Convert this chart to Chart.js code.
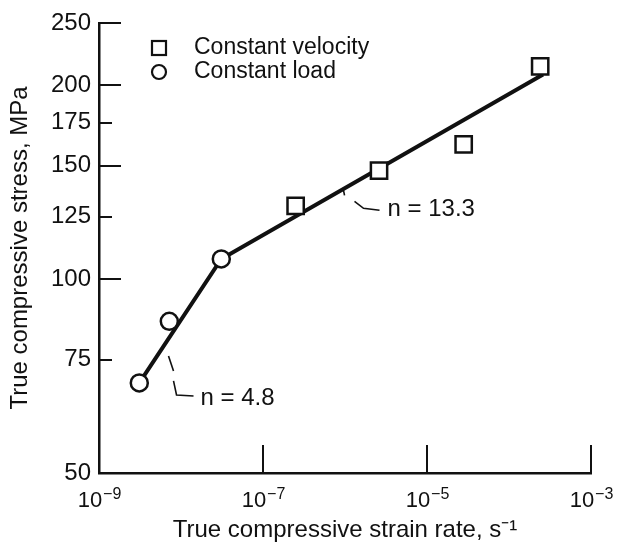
<!DOCTYPE html>
<html>
<head>
<meta charset="utf-8">
<script src="https://cdn.jsdelivr.net/npm/chart.js@4/dist/chart.umd.min.js"></script>
<style>
  html, body { margin: 0; padding: 0; background: #fff; }
  #wrap { width: 618px; height: 551px; }
</style>
</head>
<body>
<div id="wrap"><canvas id="myChart" width="618" height="551"></canvas></div>
<script>
// data (strain rate in 1/s, stress in MPa)
var loadRate = [3.1e-9, 7.2e-9, 3.1e-8];
var loadStress = [69, 86, 107.5];
var velocityRate = [2.5e-7, 2.6e-6, 2.8e-5, 2.4e-4];
var velocityStress = [130, 147.5, 162, 214];
var fitRate = [3.1e-9, 3.1e-8, 2.6e-4];
var fitStress = [69, 107.5, 208];

var yTicks = [50, 75, 100, 125, 150, 175, 200, 250];
var xTicks = [1e-9, 1e-7, 1e-5, 1e-3];
var xTickExponents = ["\u22129", "\u22127", "\u22125", "\u22123"];

var FONT = "'Liberation Sans', Arial, Helvetica, sans-serif";

function toPoints(xs, ys) {
    return xs.map(function (x, i) { return { x: x, y: ys[i] }; });
}

// inward tick marks on both axes + the 10^n labels under the x axis
var axisMarks = {
    id: "axisMarks",
    afterDatasetsDraw: function (chart) {
        var ctx = chart.ctx, a = chart.chartArea;
        var xs = chart.scales.x, ys = chart.scales.y;
        ctx.save();
        ctx.strokeStyle = "#111";
        ctx.lineWidth = 2;
        ys.ticks.forEach(function (t) {
            if (t.value === ys.min) return;
            var py = Math.round(ys.getPixelForValue(t.value));
            var len = t.value % 50 === 0 ? 22 : 13;
            ctx.beginPath();
            ctx.moveTo(a.left, py);
            ctx.lineTo(a.left + len, py);
            ctx.stroke();
        });
        xs.ticks.forEach(function (t) {
            if (t.value === xs.min) return;
            var px = Math.round(xs.getPixelForValue(t.value));
            ctx.beginPath();
            ctx.moveTo(px, a.bottom);
            ctx.lineTo(px, a.bottom - 28);
            ctx.stroke();
        });

        // tick labels with a raised exponent
        ctx.fillStyle = "#111";
        ctx.textBaseline = "alphabetic";
        ctx.textAlign = "left";
        xTicks.forEach(function (v, i) {
            var px = xs.getPixelForValue(v);
            ctx.font = "22px " + FONT;
            var w1 = ctx.measureText("10").width;
            ctx.font = "16px " + FONT;
            var w2 = ctx.measureText(xTickExponents[i]).width;
            var x0 = px - (w1 + w2) / 2;
            ctx.font = "22px " + FONT;
            ctx.fillText("10", x0, a.bottom + 34);
            ctx.font = "16px " + FONT;
            ctx.fillText(xTickExponents[i], x0 + w1 + 1, a.bottom + 26);
        });
        ctx.restore();
    }
};

// n-value labels with their little leader marks
var notes = [
    { text: "n = 4.8", x: 1.73e-8, y: 65.4,
      marks: [[[-32, -42], [-27, -27]], [[-27, -17], [-24, -3], [-7, -2]]] },
    { text: "n = 13.3", x: 3.3e-6, y: 128.4,
      marks: [[[-44, -19], [-43, -14]], [[-33, -8], [-24, -1], [-8, 1]]] }
];

var noteLabels = {
    id: "noteLabels",
    afterDatasetsDraw: function (chart) {
        var ctx = chart.ctx;
        ctx.save();
        ctx.fillStyle = "#111";
        ctx.strokeStyle = "#111";
        ctx.lineWidth = 1.6;
        ctx.font = "24px " + FONT;
        ctx.textBaseline = "middle";
        notes.forEach(function (n) {
            var px = chart.scales.x.getPixelForValue(n.x);
            var py = chart.scales.y.getPixelForValue(n.y);
            ctx.fillText(n.text, px, py);
            n.marks.forEach(function (m) {
                ctx.beginPath();
                m.forEach(function (p, i) {
                    if (i === 0) ctx.moveTo(px + p[0], py + p[1]);
                    else ctx.lineTo(px + p[0], py + p[1]);
                });
                ctx.stroke();
            });
        });
        ctx.restore();
    }
};

// legend in the upper left of the plot
var boxLegend = {
    id: "boxLegend",
    afterDraw: function (chart) {
        var ctx = chart.ctx;
        ctx.save();
        ctx.strokeStyle = "#111";
        ctx.lineWidth = 2.2;
        ctx.strokeRect(152, 41, 14, 14);
        ctx.beginPath();
        ctx.arc(159, 72, 7, 0, Math.PI * 2);
        ctx.stroke();
        ctx.fillStyle = "#111";
        ctx.font = "23px " + FONT;
        ctx.textBaseline = "middle";
        ctx.fillText(chart.data.datasets[0].label, 194, 48);
        ctx.fillText(chart.data.datasets[1].label, 194, 72);
        ctx.restore();
    }
};

window.myChart = new Chart("myChart", {
    type: "scatter",
    data: {
        datasets: [{
            label: "Constant velocity",
            data: toPoints(velocityRate, velocityStress),
            pointStyle: "rect",
            pointRadius: 11.5,
            pointBorderWidth: 2.5,
            borderColor: "#111",
            backgroundColor: "#fff",
            order: 1
        }, {
            label: "Constant load",
            data: toPoints(loadRate, loadStress),
            pointStyle: "circle",
            pointRadius: 8.5,
            pointBorderWidth: 2.5,
            borderColor: "#111",
            backgroundColor: "#fff",
            order: 1
        }, {
            label: "fit",
            type: "line",
            data: toPoints(fitRate, fitStress),
            borderColor: "#111",
            borderWidth: 4,
            pointRadius: 0,
            fill: false,
            order: 3
        }]
    },
    options: {
        responsive: false,
        animation: false,
        layout: { padding: { top: 23, right: 27, left: 0, bottom: 0 } },
        plugins: {
            legend: { display: false },
            tooltip: { enabled: false }
        },
        scales: {
            x: {
                type: "logarithmic",
                min: 1e-9,
                max: 1e-3,
                afterBuildTicks: function (scale) {
                    scale.ticks = xTicks.map(function (v) { return { value: v }; });
                },
                afterFit: function (scale) { scale.height = 78; },
                grid: { display: false, drawTicks: false },
                border: { display: true, color: "#111", width: 2.5 },
                ticks: {
                    autoSkip: false,
                    maxRotation: 0,
                    callback: function () { return ""; }
                },
                title: {
                    display: true,
                    text: "True compressive strain rate, s\u207B\u00B9",
                    color: "#111",
                    font: { family: FONT, size: 24 },
                    padding: { top: 0, bottom: 6 }
                }
            },
            y: {
                type: "logarithmic",
                min: 50,
                max: 250,
                afterBuildTicks: function (scale) {
                    scale.ticks = yTicks.map(function (v) { return { value: v }; });
                },
                afterFit: function (scale) { scale.width = 99; },
                grid: { display: false, drawTicks: false },
                border: { display: true, color: "#111", width: 2.5 },
                ticks: {
                    color: "#111",
                    padding: 8,
                    autoSkip: false,
                    font: { family: FONT, size: 24 },
                    callback: function (v) { return String(v); }
                },
                title: {
                    display: true,
                    text: "True compressive stress, MPa",
                    color: "#111",
                    font: { family: FONT, size: 24 },
                    padding: { top: 6, bottom: 0 }
                }
            }
        }
    },
    plugins: [axisMarks, noteLabels, boxLegend]
});
</script>
</body>
</html>
